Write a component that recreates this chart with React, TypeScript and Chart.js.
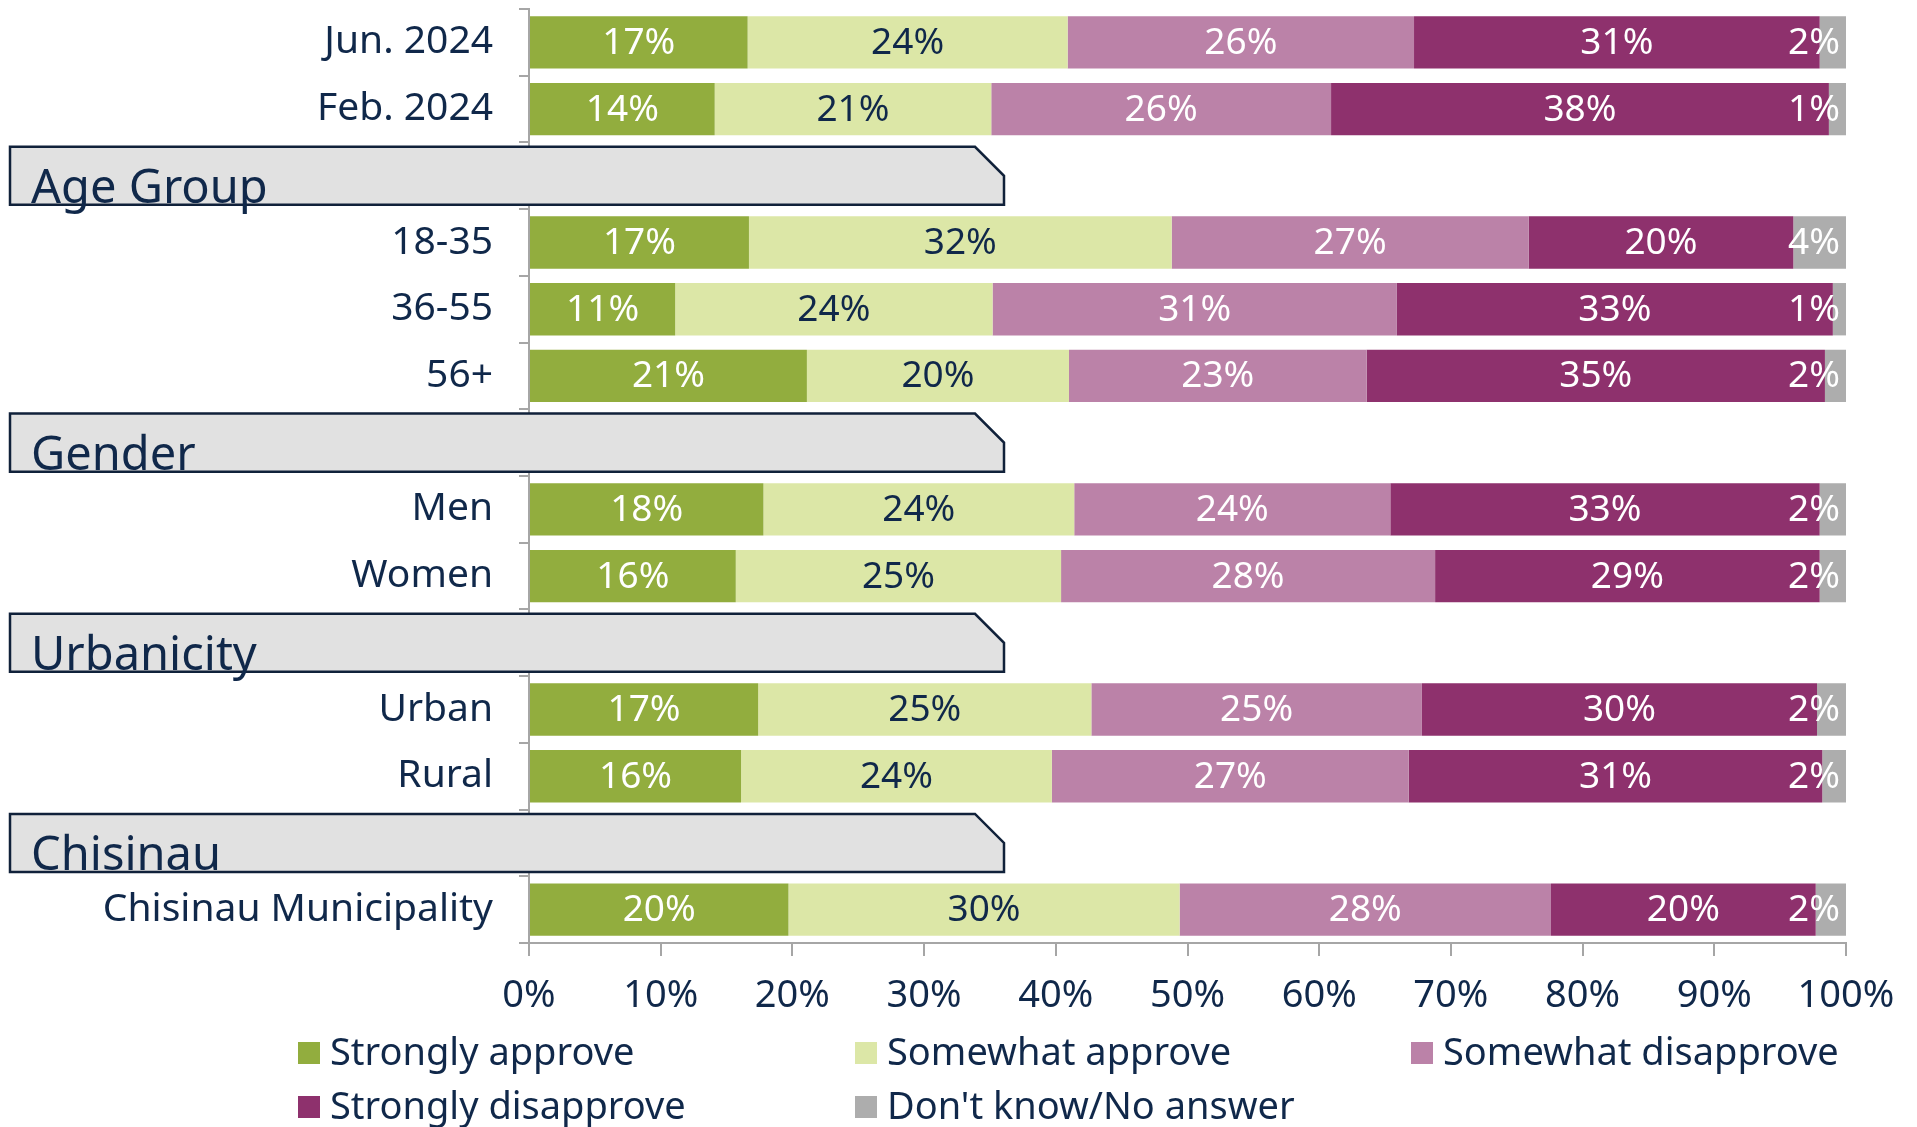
import React, { useEffect, useRef } from "react";
import { Chart, registerables } from "chart.js";

Chart.register(...registerables);

const categories = [
  "Jun. 2024",
  "Feb. 2024",
  "Age Group",
  "18-35",
  "36-55",
  "56+",
  "Gender",
  "Men",
  "Women",
  "Urbanicity",
  "Urban",
  "Rural",
  "Chisinau",
  "Chisinau Municipality",
];
const headerRows = ["Age Group", "Gender", "Urbanicity", "Chisinau"];

const seriesNames = [
  "Strongly approve",
  "Somewhat approve",
  "Somewhat disapprove",
  "Strongly disapprove",
  "Don't know/No answer",
];

const stronglyApprove = [16.6, 14.1, null, 16.7, 11.1, 21.1, null, 17.8, 15.7, null, 17.4, 16.1, null, 19.7];
const somewhatApprove = [24.3, 21.0, null, 32.1, 24.1, 19.9, null, 23.6, 24.7, null, 25.3, 23.6, null, 29.7];
const somewhatDisapprove = [26.3, 25.8, null, 27.1, 30.7, 22.6, null, 24.0, 28.4, null, 25.1, 27.1, null, 28.2];
const stronglyDisapprove = [30.8, 37.8, null, 20.1, 33.1, 34.8, null, 32.6, 29.2, null, 30.0, 31.4, null, 20.1];
const dontKnow = [2.0, 1.3, null, 4.0, 1.0, 1.6, null, 2.0, 2.0, null, 2.2, 1.8, null, 2.3];

const xTicks = [0, 10, 20, 30, 40, 50, 60, 70, 80, 90, 100];

const COLORS = ["#92ad3e", "#dce7a7", "#bb82a8", "#8e316d", "#adadad"];
const LABEL_COLORS = ["#ffffff", "#10284a", "#ffffff", "#ffffff", "#ffffff"];
const NAVY = "#10284a";
const FONT = "'Noto Sans', 'Open Sans', sans-serif";

const dataLabelsPlugin = {
  id: "dataLabels",
  afterDatasetsDraw(chart: any) {
    const ctx = chart.ctx;
    ctx.save();
    ctx.font = `37px ${FONT}`;
    ctx.textBaseline = "middle";
    ctx.textAlign = "center";
    const area = chart.chartArea;
    chart.data.datasets.forEach((ds: any, di: number) => {
      const meta = chart.getDatasetMeta(di);
      meta.data.forEach((bar: any, i: number) => {
        const v = ds.data[i];
        if (v === null || v === undefined) return;
        const text = Math.round(v) + "%";
        const w = ctx.measureText(text).width;
        let x = (bar.x + bar.base) / 2;
        x = Math.min(x, area.right - 6 - w / 2);
        ctx.fillStyle = LABEL_COLORS[di];
        ctx.fillText(text, x, bar.y + 1);
      });
    });
    ctx.restore();
  },
};

const headerPlugin = {
  id: "headers",
  afterDraw(chart: any) {
    const ctx = chart.ctx;
    const yScale = chart.scales.y;
    const pitch = Math.abs(yScale.getPixelForValue(1) - yScale.getPixelForValue(0));
    const h = pitch * 0.87;
    const left = 10;
    const right = 1004;
    const cut = 29;
    ctx.save();
    categories.forEach((c, i) => {
      if (!headerRows.includes(c)) return;
      const cy = yScale.getPixelForValue(i);
      const top = cy - h / 2;
      const bottom = cy + h / 2;
      ctx.beginPath();
      ctx.moveTo(left, top);
      ctx.lineTo(right - cut, top);
      ctx.lineTo(right, top + cut);
      ctx.lineTo(right, bottom);
      ctx.lineTo(left, bottom);
      ctx.closePath();
      ctx.fillStyle = "#e1e1e1";
      ctx.fill();
      ctx.lineWidth = 2.5;
      ctx.strokeStyle = "#10213a";
      ctx.stroke();
      ctx.fillStyle = NAVY;
      ctx.font = `47px ${FONT}`;
      ctx.textAlign = "left";
      ctx.textBaseline = "alphabetic";
      ctx.fillText(c, 31, bottom - 2);
    });
    ctx.restore();
  },
};

const legendPlugin = {
  id: "customLegend",
  afterDraw(chart: any) {
    const ctx = chart.ctx;
    const colX = [298, 855, 1411];
    const rowY = [1053, 1107];
    ctx.save();
    ctx.font = `38px ${FONT}`;
    ctx.textBaseline = "middle";
    ctx.textAlign = "left";
    chart.data.datasets.forEach((ds: any, i: number) => {
      const x = colX[i % 3];
      const y = rowY[Math.floor(i / 3)];
      ctx.fillStyle = ds.backgroundColor;
      ctx.fillRect(x, y - 11, 22, 22);
      ctx.fillStyle = NAVY;
      ctx.fillText(ds.label, x + 32, y + 1);
    });
    ctx.restore();
  },
};

export default function App() {
  const ref = useRef<HTMLCanvasElement>(null);

  useEffect(() => {
    document.body.style.margin = "0";
    if (!ref.current) return;
    const series = [stronglyApprove, somewhatApprove, somewhatDisapprove, stronglyDisapprove, dontKnow];
    const chart = new Chart(ref.current, {
      type: "bar",
      data: {
        labels: categories,
        datasets: series.map((d, i) => ({
          label: seriesNames[i],
          data: d,
          backgroundColor: COLORS[i],
          borderWidth: 0,
          categoryPercentage: 1,
          barPercentage: 0.785,
        })),
      },
      options: {
        indexAxis: "y",
        animation: false,
        responsive: false,
        maintainAspectRatio: false,
        devicePixelRatio: 1,
        layout: { padding: { top: 9, right: 71, bottom: 0, left: 0 } },
        plugins: {
          legend: { display: false },
          tooltip: { enabled: false },
        },
        scales: {
          x: {
            type: "linear",
            stacked: true,
            min: 0,
            max: 100,
            afterBuildTicks(scale: any) {
              scale.ticks = xTicks.map((v) => ({ value: v }));
            },
            afterFit(scale: any) {
              scale.height = 184;
              scale.paddingLeft = 0;
              scale.paddingRight = 0;
              scale.paddingTop = 0;
              scale.paddingBottom = 0;
            },
            ticks: {
              callback: (v: any) => v + "%",
              color: NAVY,
              font: { family: FONT, size: 38 },
              padding: 17,
              maxRotation: 0,
              autoSkip: false,
            },
            grid: {
              drawOnChartArea: false,
              drawTicks: true,
              tickLength: 13,
              color: "#a6a6a6",
              lineWidth: 2,
            },
            border: { display: true, color: "#a6a6a6", width: 2 },
          },
          y: {
            type: "category",
            stacked: true,
            afterFit(scale: any) {
              scale.width = 529;
              scale.paddingLeft = 0;
              scale.paddingRight = 0;
              scale.paddingTop = 0;
              scale.paddingBottom = 0;
            },
            ticks: {
              callback: (_v: any, i: number) =>
                headerRows.includes(categories[i]) ? "" : categories[i],
              color: NAVY,
              font: { family: FONT, size: 39 },
              padding: 26,
              autoSkip: false,
            },
            grid: {
              drawOnChartArea: false,
              drawTicks: true,
              tickLength: 10,
              color: "#a6a6a6",
              lineWidth: 2,
              offset: true,
            },
            border: { display: true, color: "#a6a6a6", width: 2 },
          },
        },
      },
      plugins: [dataLabelsPlugin, headerPlugin, legendPlugin],
    } as any);
    return () => chart.destroy();
  }, []);

  return <canvas ref={ref} width={1917} height={1127} style={{ display: "block" }} />;
}
